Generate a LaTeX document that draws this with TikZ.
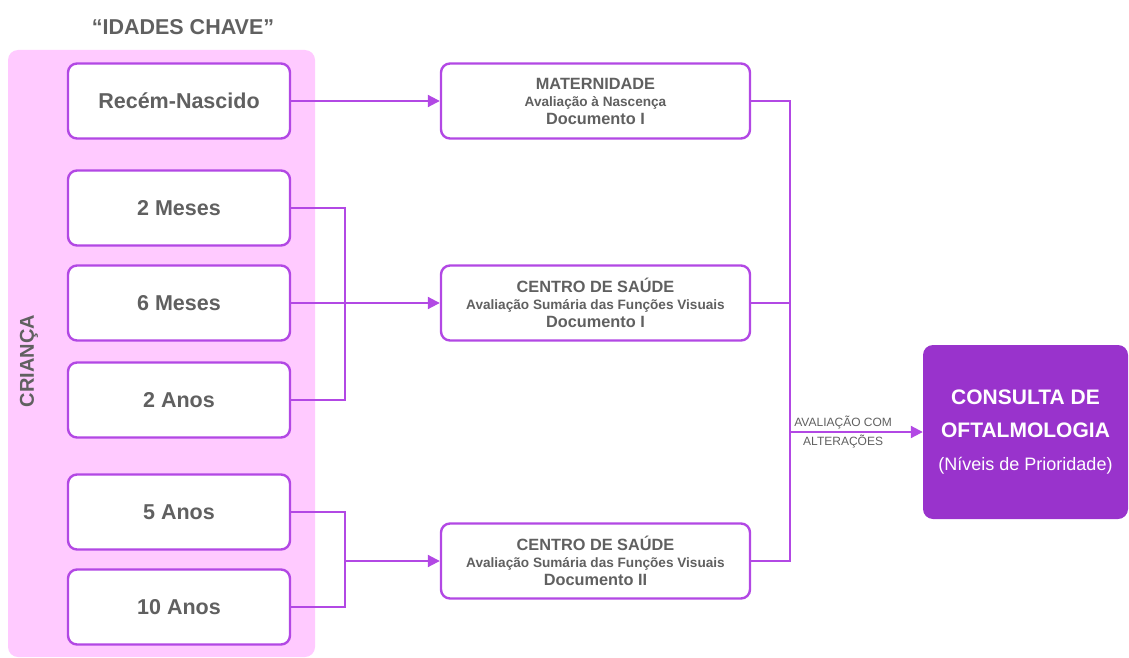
\documentclass[tikz,border=0pt]{standalone}
\usepackage{fontspec}
\setmainfont{Liberation Sans}
\usetikzlibrary{arrows.meta}
\definecolor{lila}{RGB}{178,72,228}
\definecolor{rosa}{RGB}{255,202,255}
\definecolor{roxo}{RGB}{153,51,204}
\definecolor{cinza}{RGB}{96,96,96}
\newcommand{\subtxt}{\fontsize{13.6}{16}\selectfont\bfseries}
\begin{document}
\begin{tikzpicture}[x=1pt,y=-1pt,
    idade/.style={draw=lila,line width=2.4pt,fill=white,rounded corners=9pt,
        minimum width=222pt,minimum height=75pt,inner sep=0pt,
        text=cinza,font=\fontsize{21.5}{24}\selectfont\bfseries},
    etapa/.style={draw=lila,line width=2.4pt,fill=white,rounded corners=9pt,
        minimum width=309pt,minimum height=75pt,inner sep=0pt,align=center,
        text=cinza,font=\fontsize{16.3}{18}\selectfont\bfseries},
    liga/.style={draw=lila,line width=2pt},
    seta/.style={liga,-{Triangle[length=12pt,width=12pt]}}]
    \useasboundingbox (0,0) rectangle (1129,658);
    % fundo rosa
    \node (panel) [fill=rosa,rounded corners=10pt,minimum width=307pt,minimum height=607pt,inner sep=0pt] at (161.5,353.5) {};
    \node (titulo) [text=cinza,font=\fontsize{21.5}{24}\selectfont\bfseries] at (183,27) {“IDADES CHAVE”};
    \node (crianca) [text=cinza,rotate=90,font=\fontsize{20}{22}\selectfont\bfseries] at (29,361) {CRIANÇA};
    % idades
    \node (rn) [idade] at (179,101) {Recém-Nascido};
    \node (m2) [idade] at (179,208) {2 Meses};
    \node (m6) [idade] at (179,303) {6 Meses};
    \node (a2) [idade] at (179,400) {2 Anos};
    \node (a5) [idade] at (179,512) {5 Anos};
    \node (a10) [idade] at (179,607) {10 Anos};
    % avaliações
    \node (mat) [etapa] at (595.5,101) {MATERNIDADE\\[-1pt]{\subtxt Avaliação à Nascença}\\[0pt]Documento I};
    \node (cs1) [etapa] at (595.5,303) {CENTRO DE SAÚDE\\[-1pt]{\subtxt Avaliação Sumária das Funções Visuais}\\[0pt]Documento I};
    \node (cs2) [etapa] at (595.5,561) {CENTRO DE SAÚDE\\[-1pt]{\subtxt Avaliação Sumária das Funções Visuais}\\[0pt]Documento II};
    \node (cons) [fill=roxo,rounded corners=10pt,minimum width=205pt,minimum height=174pt,inner sep=0pt,align=center,text=white,font=\fontsize{21}{33}\selectfont\bfseries] at (1025.5,432) {CONSULTA DE\\OFTALMOLOGIA\\{\fontsize{18}{22}\selectfont\mdseries(Níveis de Prioridade)}};
    % ligações
    \coordinate (jA) at (345,303);
    \coordinate (jB) at (345,561);
    \coordinate (jR) at (790,432);
    \draw [seta] (rn) to (mat);
    \draw [liga] (m2) -| (jA);
    \draw [liga] (a2) -| (jA);
    \draw [seta] (m6) to (cs1);
    \draw [liga] (a5.east) -| (jB);
    \draw [liga] (a10.east) -| (jB);
    \draw [seta] (jB) to (cs2);
    \draw [liga] (mat) -| (jR);
    \draw [liga] (cs2) -| (jR);
    \draw [liga] (cs1) to (cs1 -| jR);
    \draw [seta] (jR) to node [pos=0.4,above,text=cinza,font=\fontsize{12}{13}\selectfont,inner sep=2pt] {AVALIAÇÃO COM} node [pos=0.4,below,text=cinza,font=\fontsize{12}{13}\selectfont,inner sep=2pt] {ALTERAÇÕES} (cons);
\end{tikzpicture}
\end{document}
